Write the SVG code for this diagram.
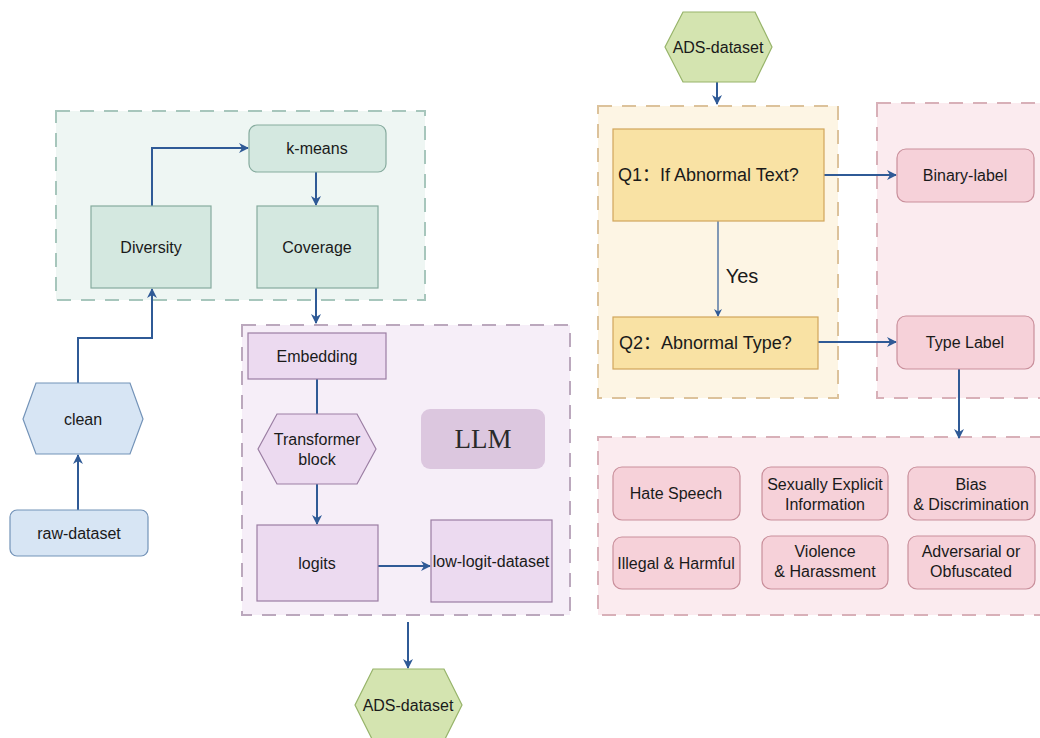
<svg xmlns="http://www.w3.org/2000/svg" width="1040" height="738" viewBox="0 0 1040 738">
<defs>
<marker id="ah" markerWidth="10" markerHeight="10" refX="9" refY="5" orient="auto" markerUnits="userSpaceOnUse">
<path d="M0,0 L10,5 L0,10 L3,5 Z" fill="#2f5a96"/>
</marker>
<marker id="ahs" markerWidth="8" markerHeight="8" refX="7" refY="4" orient="auto" markerUnits="userSpaceOnUse">
<path d="M0,0 L8,4 L0,8 L2.5,4 Z" fill="#2f5a96"/>
</marker>
</defs>
<style>
text{font-family:"Liberation Sans",Arial,sans-serif;font-size:16px;fill:#1a1a1a;text-anchor:middle;dominant-baseline:central}
.grp{stroke-width:2;stroke-dasharray:14 10}
.gg{fill:#eef6f3;stroke:#a7c6bc}
.pg{fill:#f6eef8;stroke:#bba8bd}
.yg{fill:#fdf5e4;stroke:#dcc29b}
.kg{fill:#fbebef;stroke:#d8b0b8}
.gn{fill:#d4e8e0;stroke:#86ab9e;stroke-width:1.2}
.pn{fill:#ecdaf0;stroke:#9b7ea3;stroke-width:1.2}
.bn{fill:#d7e5f4;stroke:#7393b8;stroke-width:1.2}
.yn{fill:#f9e2a4;stroke:#d1a65c;stroke-width:1.2}
.kn{fill:#f6d1d9;stroke:#c98f9b;stroke-width:1.2}
.ln{fill:#d4e4b0;stroke:#97b46a;stroke-width:1.2}
.c{fill:none;stroke:#2f5a96;stroke-width:2;marker-end:url(#ah)}
.ct{fill:none;stroke:#2f5a96;stroke-width:1.2;marker-end:url(#ahs)}
.q{font-family:"Liberation Sans","Noto Sans CJK SC",sans-serif;font-size:18px;text-anchor:start}
</style>

<g id="groups">
<rect class="grp gg" x="56" y="111" width="369" height="189"/>
<rect class="grp pg" x="242" y="325" width="328" height="290"/>
<rect class="grp yg" x="598" y="106" width="240" height="292"/>
<rect class="grp kg" x="877" y="103" width="180" height="295"/>
<rect class="grp kg" x="598" y="437" width="460" height="178"/>
</g>

<g id="connectors">
<path class="c" d="M152,206 V148 H248"/>
<path class="c" d="M316,172 V205"/>
<path class="c" d="M316,288 V323"/>
<path class="c" d="M317,379 V414" style="marker-end:none"/>
<path class="c" d="M317,484 V524"/>
<path class="c" d="M378,566 H430"/>
<path class="c" d="M408,622 V668"/>
<path class="c" d="M78,510 V455"/>
<path class="c" d="M78,383 V338 H152 V289"/>
<path class="c" d="M717,82 V104"/>
<path class="ct" d="M718,221 V316"/>
<path class="c" d="M824,175 H896"/>
<path class="c" d="M818,342 H896"/>
<path class="c" d="M959,369 V438"/>
</g>

<g id="n-kmeans"><rect class="gn" x="249" y="125" width="137" height="47" rx="8"/><text x="317" y="148">k-means</text></g>
<g id="n-diversity"><rect class="gn" x="91" y="206" width="120" height="82"/><text x="151" y="247">Diversity</text></g>
<g id="n-coverage"><rect class="gn" x="257" y="206" width="121" height="82"/><text x="317" y="247">Coverage</text></g>

<g id="n-embedding"><rect class="pn" x="248" y="333" width="138" height="46"/><text x="317" y="356">Embedding</text></g>
<g id="n-transformer"><polygon class="pn" points="277,414 357,414 376,449 357,484 277,484 258,449"/><text x="317" y="439">Transformer</text><text x="317" y="459">block</text></g>
<g id="n-llm"><rect x="421" y="409" width="124" height="60" rx="9" fill="#dcc7df"/><text x="483" y="439" style="font-family:'Liberation Serif','Times New Roman',serif;font-size:27px;fill:#2a2a2a">LLM</text></g>
<g id="n-logits"><rect class="pn" x="257" y="525" width="121" height="76"/><text x="317" y="563">logits</text></g>
<g id="n-lowlogit"><rect class="pn" x="431" y="520" width="121" height="82"/><text x="491" y="561">low-logit-dataset</text></g>
<g id="n-ads-bottom"><polygon class="ln" points="373,669 444,669 462,705 444,741 373,741 355,705"/><text x="408" y="705">ADS-dataset</text></g>

<g id="n-clean"><polygon class="bn" points="36,383 130,383 143,419 130,454 36,454 23,419"/><text x="83" y="419">clean</text></g>
<g id="n-raw"><rect class="bn" x="10" y="510" width="138" height="46" rx="7"/><text x="79" y="533">raw-dataset</text></g>

<g id="n-ads-top"><polygon class="ln" points="683,12 755,12 772,47 755,82 683,82 665,47"/><text x="718" y="47">ADS-dataset</text></g>
<g id="n-q1"><rect class="yn" x="613" y="129" width="211" height="92"/><text class="q" x="618" y="175">Q1：If Abnormal Text?</text></g>
<text x="742" y="276" style="font-size:20px">Yes</text>
<g id="n-q2"><rect class="yn" x="613" y="317" width="205" height="52"/><text class="q" x="619" y="343">Q2：Abnormal Type?</text></g>
<g id="n-binary"><rect class="kn" x="897" y="149" width="137" height="53" rx="9"/><text x="965" y="175">Binary-label</text></g>
<g id="n-type"><rect class="kn" x="897" y="316" width="137" height="53" rx="9"/><text x="965" y="342">Type Label</text></g>

<g id="n-hate"><rect class="kn" x="613" y="467" width="127" height="53" rx="9"/><text x="676" y="493">Hate Speech</text></g>
<g id="n-sexual"><rect class="kn" x="762" y="467" width="126" height="53" rx="9"/><text x="825" y="484">Sexually Explicit</text><text x="825" y="504">Information</text></g>
<g id="n-bias"><rect class="kn" x="908" y="467" width="127" height="53" rx="9"/><text x="971" y="484">Bias</text><text x="971" y="504">&amp; Discrimination</text></g>
<g id="n-illegal"><rect class="kn" x="613" y="537" width="127" height="52" rx="9"/><text x="676" y="563">Illegal &amp; Harmful</text></g>
<g id="n-violence"><rect class="kn" x="762" y="536" width="126" height="53" rx="9"/><text x="825" y="551">Violence</text><text x="825" y="571">&amp; Harassment</text></g>
<g id="n-adversarial"><rect class="kn" x="908" y="536" width="127" height="53" rx="9"/><text x="971" y="551">Adversarial or</text><text x="971" y="571">Obfuscated</text></g>
</svg>
